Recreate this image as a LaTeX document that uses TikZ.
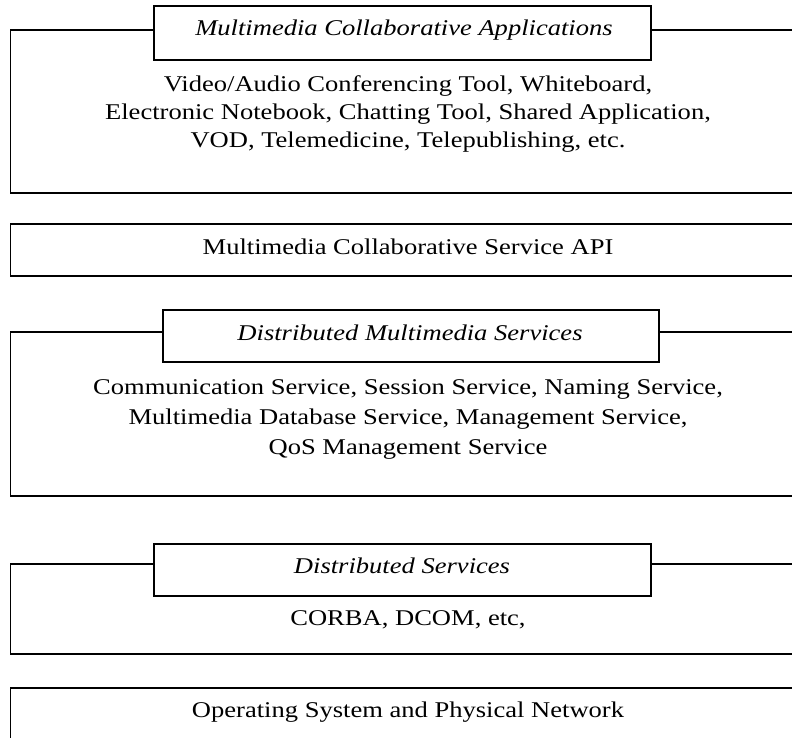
\documentclass[tikz,border=0pt]{standalone}
\usepackage{fontspec}
% Times-compatible serif, set slightly wide
\setmainfont[FakeStretch=1.18]{Liberation Serif}
\begin{document}
\begin{tikzpicture}[x=1pt,y=-1pt,
  frame/.style={draw=black,line width=1.7pt},
  tab/.style={draw=black,fill=white,line width=1.7pt,inner sep=0pt},
  txt/.style={anchor=base,inner sep=0pt,font=\fontsize{22.5}{28}\selectfont},
  ttl/.style={anchor=base,inner sep=0pt,font=\fontsize{22.5}{28}\selectfont\itshape}]
\useasboundingbox (0,0) rectangle (792,738);
\clip (0,0) rectangle (792,738);

% Layer 1: applications
\coordinate (l1a) at (10.5,30);
\coordinate (l1b) at (810,193);
\draw[frame] (l1a) rectangle (l1b);
\node[tab,minimum width=497pt,minimum height=54pt] (tab1) at (402.5,33) {};
\node[ttl] (ttl1) at (404,36) {Multimedia Collaborative Applications};
\node[txt] (a1) at (408,92) {Video/Audio Conferencing Tool, Whiteboard,};
\node[txt] (a2) at (408,120) {Electronic Notebook, Chatting Tool, Shared Application,};
\node[txt] (a3) at (408,148) {VOD, Telemedicine, Telepublishing, etc.};

% Layer 2: service API
\coordinate (l2a) at (10.5,224);
\coordinate (l2b) at (810,276);
\draw[frame] (l2a) rectangle (l2b);
\node[txt] (api) at (408,254) {Multimedia Collaborative Service API};

% Layer 3: distributed multimedia services
\coordinate (l3a) at (10.5,332);
\coordinate (l3b) at (810,496);
\draw[frame] (l3a) rectangle (l3b);
\node[tab,minimum width=496pt,minimum height=52pt] (tab3) at (411,336) {};
\node[ttl] (ttl3) at (410,340.5) {Distributed Multimedia Services};
\node[txt] (s1) at (408,394) {Communication Service, Session Service, Naming Service,};
\node[txt] (s2) at (408,424) {Multimedia Database Service, Management Service,};
\node[txt] (s3) at (408,454) {QoS Management Service};

% Layer 4: distributed services
\coordinate (l4a) at (10.5,564);
\coordinate (l4b) at (810,654);
\draw[frame] (l4a) rectangle (l4b);
\node[tab,minimum width=497pt,minimum height=52pt] (tab4) at (402.5,570) {};
\node[ttl] (ttl4) at (402,573) {Distributed Services};
\node[txt] (d1) at (408,625) {CORBA, DCOM, etc,};

% Layer 5: operating system
\coordinate (l5a) at (10.5,688);
\coordinate (l5b) at (810,760);
\draw[frame] (l5a) rectangle (l5b);
\node[txt] (os) at (408,717) {Operating System and Physical Network};
\end{tikzpicture}
\end{document}
